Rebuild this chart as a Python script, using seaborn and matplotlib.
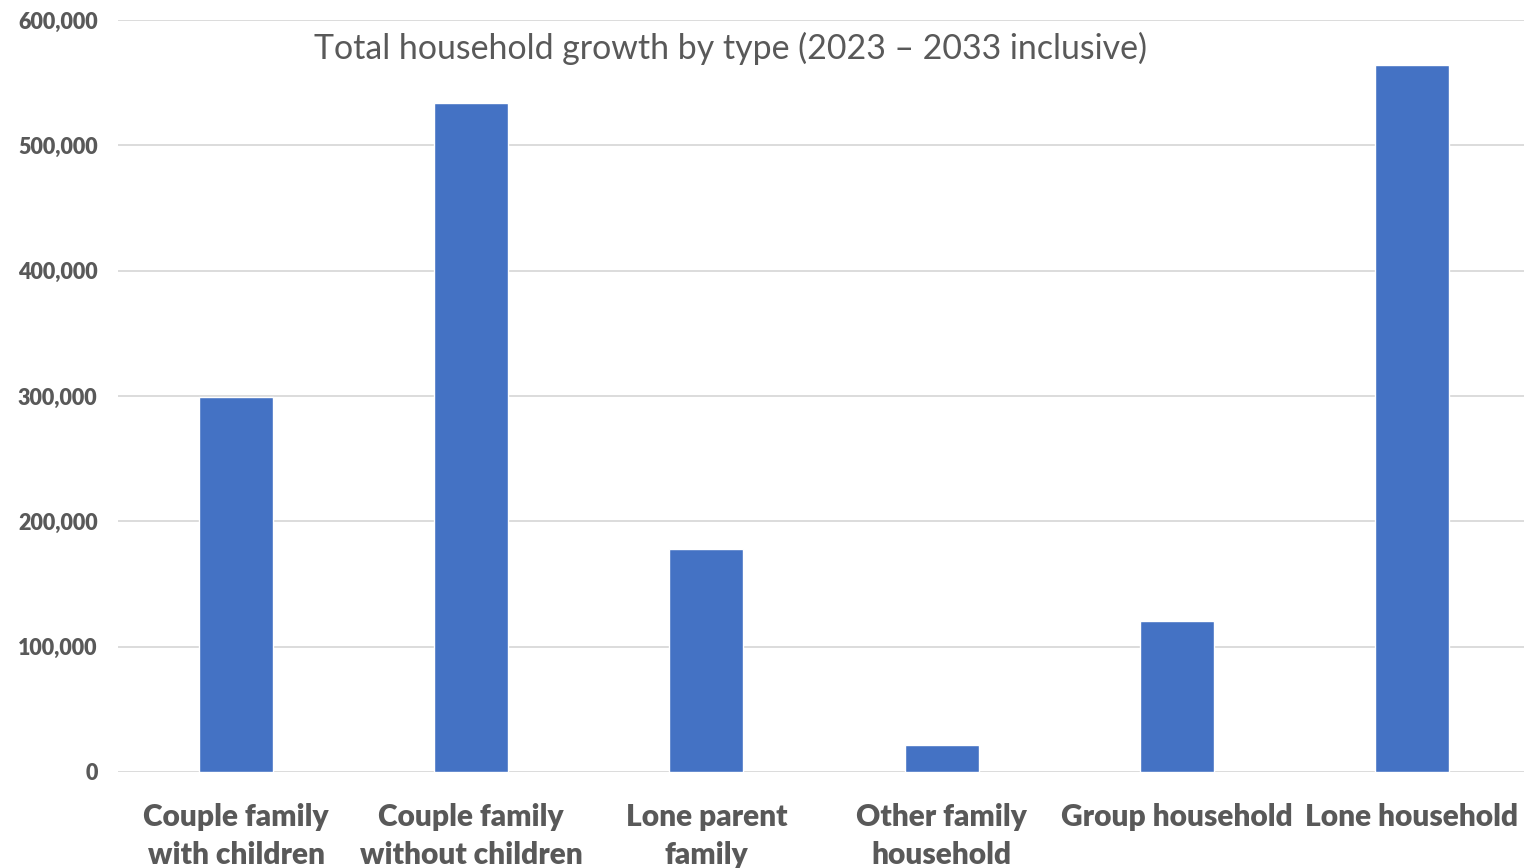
import matplotlib
matplotlib.use("Agg")
import matplotlib.pyplot as plt
import matplotlib.ticker as mticker
import pandas as pd
import seaborn as sns

categories = [
    "Couple family\nwith children",
    "Couple family\nwithout children",
    "Lone parent\nfamily",
    "Other family\nhousehold",
    "Group household",
    "Lone household",
]
growth = [299500, 534000, 178000, 21500, 120500, 564000]
y_ticks = [0, 100000, 200000, 300000, 400000, 500000, 600000]

df = pd.DataFrame({"type": categories, "growth": growth})

sns.set_style("white")
plt.rcParams["font.family"] = ["Lato", "DejaVu Sans"]

text_color = "#595959"
fig = plt.figure(figsize=(15.24, 8.68), dpi=100)
ax = fig.add_axes([0.0777, 0.1106, 0.926, 0.8664])

sns.barplot(data=df, x="type", y="growth", color="#4472C4", width=0.315,
            saturation=1, ax=ax, zorder=3)

ax.set_ylim(0, 600000)
ax.set_yticks(y_ticks)
ax.yaxis.set_major_formatter(mticker.StrMethodFormatter("{x:,.0f}"))
ax.grid(axis="y", color="#D9D9D9", linewidth=1.3, zorder=0)
ax.set_axisbelow(True)
for s in ax.spines.values():
    s.set_visible(False)
ax.set_xlabel("")
ax.set_ylabel("")
ax.tick_params(axis="both", length=0)
ax.tick_params(axis="y", pad=15, labelsize=15.5, labelcolor=text_color)
ax.tick_params(axis="x", pad=22, labelsize=21.5, labelcolor=text_color)
for lab in ax.get_yticklabels() + ax.get_xticklabels():
    lab.set_fontweight("heavy")
for lab in ax.get_xticklabels():
    lab.set_linespacing(1.45)
    lab.set_verticalalignment("top")

# chart title sits inside the plot area, near the top gridline
fig.text(0.4795, 0.944, "Total household growth by type (2023 \u2013 2033 inclusive)",
         ha="center", va="center", fontsize=24.4, color=text_color)

fig.savefig("out.png", dpi=100)
